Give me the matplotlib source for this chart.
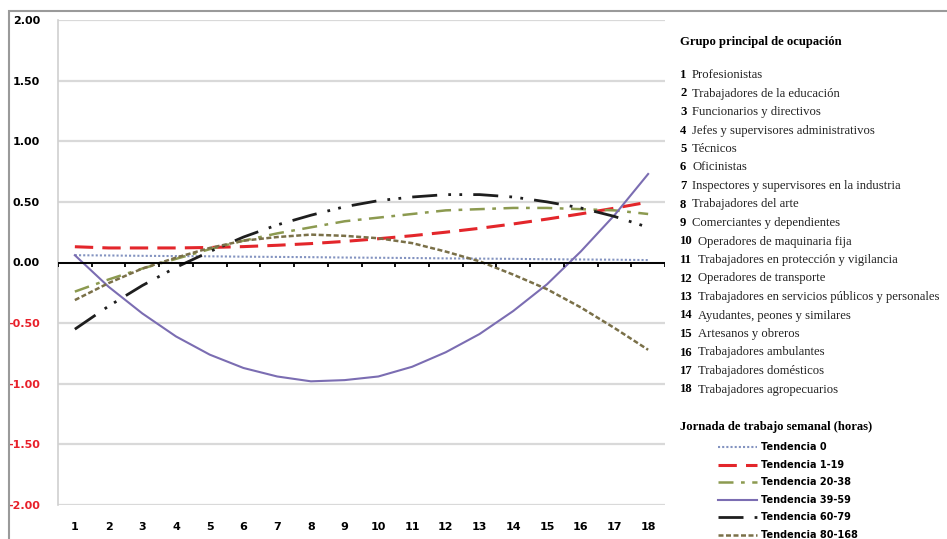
import matplotlib.pyplot as plt
import numpy as np
from matplotlib.lines import Line2D
from matplotlib.patches import Rectangle

# data
grupos = list(range(1, 19))
t0 = [0.06, 0.058, 0.055, 0.053, 0.051, 0.048, 0.046, 0.044, 0.041,
      0.039, 0.037, 0.034, 0.032, 0.030, 0.027, 0.025, 0.023, 0.020]
t1_19 = [0.13, 0.12, 0.12, 0.12, 0.124, 0.131, 0.142, 0.156, 0.174,
         0.196, 0.221, 0.250, 0.282, 0.318, 0.358, 0.401, 0.448, 0.498]
t20_38 = [-0.24, -0.14, -0.05, 0.03, 0.11, 0.18, 0.24, 0.29, 0.34,
          0.37, 0.40, 0.43, 0.44, 0.45, 0.45, 0.44, 0.43, 0.40]
t39_59 = [0.06, -0.20, -0.42, -0.61, -0.76, -0.87, -0.94, -0.98, -0.97,
          -0.94, -0.86, -0.74, -0.59, -0.40, -0.18, 0.09, 0.39, 0.73]
t60_79 = [-0.55, -0.36, -0.19, -0.04, 0.09, 0.21, 0.31, 0.39, 0.46,
          0.51, 0.54, 0.56, 0.56, 0.54, 0.50, 0.45, 0.38, 0.29]
t80_168 = [-0.31, -0.17, -0.05, 0.04, 0.12, 0.18, 0.21, 0.23, 0.22,
           0.20, 0.16, 0.09, 0.01, -0.10, -0.22, -0.37, -0.54, -0.72]

series_names = ['Tendencia 0', 'Tendencia 1-19', 'Tendencia 20-38',
                'Tendencia 39-59', 'Tendencia 60-79', 'Tendencia 80-168']
ocupaciones = ['Profesionistas', 'Trabajadores de la educación',
               'Funcionarios y directivos', 'Jefes y supervisores administrativos',
               'Técnicos', 'Oficinistas', 'Inspectores y supervisores en la industria',
               'Trabajadores del arte', 'Comerciantes y dependientes',
               'Operadores de maquinaria fija', 'Trabajadores en protección y vigilancia',
               'Operadores de transporte', 'Trabajadores en servicios públicos y personales',
               'Ayudantes, peones y similares', 'Artesanos y obreros',
               'Trabajadores ambulantes', 'Trabajadores domésticos',
               'Trabajadores agropecuarios']
yticks = [2.0, 1.5, 1.0, 0.5, 0.0, -0.5, -1.0, -1.5, -2.0]

styles = [
    dict(color='#8393c0', ls=(0, (1, 1)), lw=1.5),
    dict(color='#e3262b', ls=(0, (6, 3)), lw=2.2),
    dict(color='#8c9a50', ls=(0, (6, 3, 1.5, 3)), lw=1.8),
    dict(color='#7b6db2', ls='-', lw=1.5),
    dict(color='#1e1e1e', ls=(0, (9, 4, 1, 3, 1, 4)), lw=2.0),
    dict(color='#7a7048', ls=(0, (2, 1)), lw=1.8),
]

fig = plt.figure(figsize=(9.47, 5.39), dpi=100)
W, H = 947.0, 539.0
ax = fig.add_axes([58 / W, 1 - 505 / H, 607 / W, 485 / H])

for vals, st in zip([t0, t1_19, t20_38, t39_59, t60_79, t80_168], styles):
    ax.plot(grupos, vals, **st, zorder=3)

ax.set_xlim(0.5, 18.5)
ax.set_ylim(-2.0, 2.0)
ax.set_yticks(yticks)
ax.set_yticklabels(['%.2f' % v for v in yticks], fontweight='bold', fontsize=8)
for lab, v in zip(ax.get_yticklabels(), yticks):
    lab.set_color('#e8202a' if v < 0 else 'black')
ax.yaxis.grid(True, color='#d9d9d9', lw=1.6)
ax.set_axisbelow(True)
ax.tick_params(axis='y', length=0, pad=13)

ax.set_xticks(grupos)
ax.set_xticklabels([str(g) for g in grupos], fontweight='bold', fontsize=8)
ax.tick_params(axis='x', length=0, pad=12)

for s in ['top', 'right', 'bottom']:
    ax.spines[s].set_visible(False)
ax.spines['left'].set_color('#d0d0d0')
ax.spines['left'].set_linewidth(1.2)

# zero axis with tick marks between categories, pointing down
ax.axhline(0, color='black', lw=1.4, zorder=4)
ax.vlines(np.arange(0.5, 19, 1.0), -0.04, 0, color='black', lw=1.3, zorder=4)

# outer chart border
fig.add_artist(Rectangle((9 / W, -0.1), 1.2, 1.1 - 11 / H, transform=fig.transFigure,
                         fill=False, ec='#9a9a9a', lw=1.5))

# right side text block
serif = 'Liberation Serif'
fs = 9.1
fig.text(680 / W, 1 - 42 / H, 'Grupo principal de ocupación', family=serif,
         fontweight='bold', fontsize=fs, va='center')
for i, name in enumerate(ocupaciones):
    y = 1 - (75 + i * 18.5) / H
    fig.text(680 / W, y, str(i + 1), family=serif, fontweight='bold', fontsize=fs, va='center')
    xt = 692 if i < 9 else 698
    fig.text(xt / W, y, name, family=serif, fontsize=fs, va='center', color='#222222')

fig.text(680 / W, 1 - 427 / H, 'Jornada de trabajo semanal (horas)', family=serif,
         fontweight='bold', fontsize=fs, va='center')
for i, (nm, st) in enumerate(zip(series_names, styles)):
    y = 1 - (447 + i * 17.6) / H
    fig.add_artist(Line2D([718 / W, 757 / W], [y, y], transform=fig.transFigure,
                          color=st['color'], ls=st['ls'], lw=st['lw']))
    fig.text(761 / W, y, nm, fontweight='bold', fontsize=7, va='center')

fig.savefig('out.png', dpi=100)
